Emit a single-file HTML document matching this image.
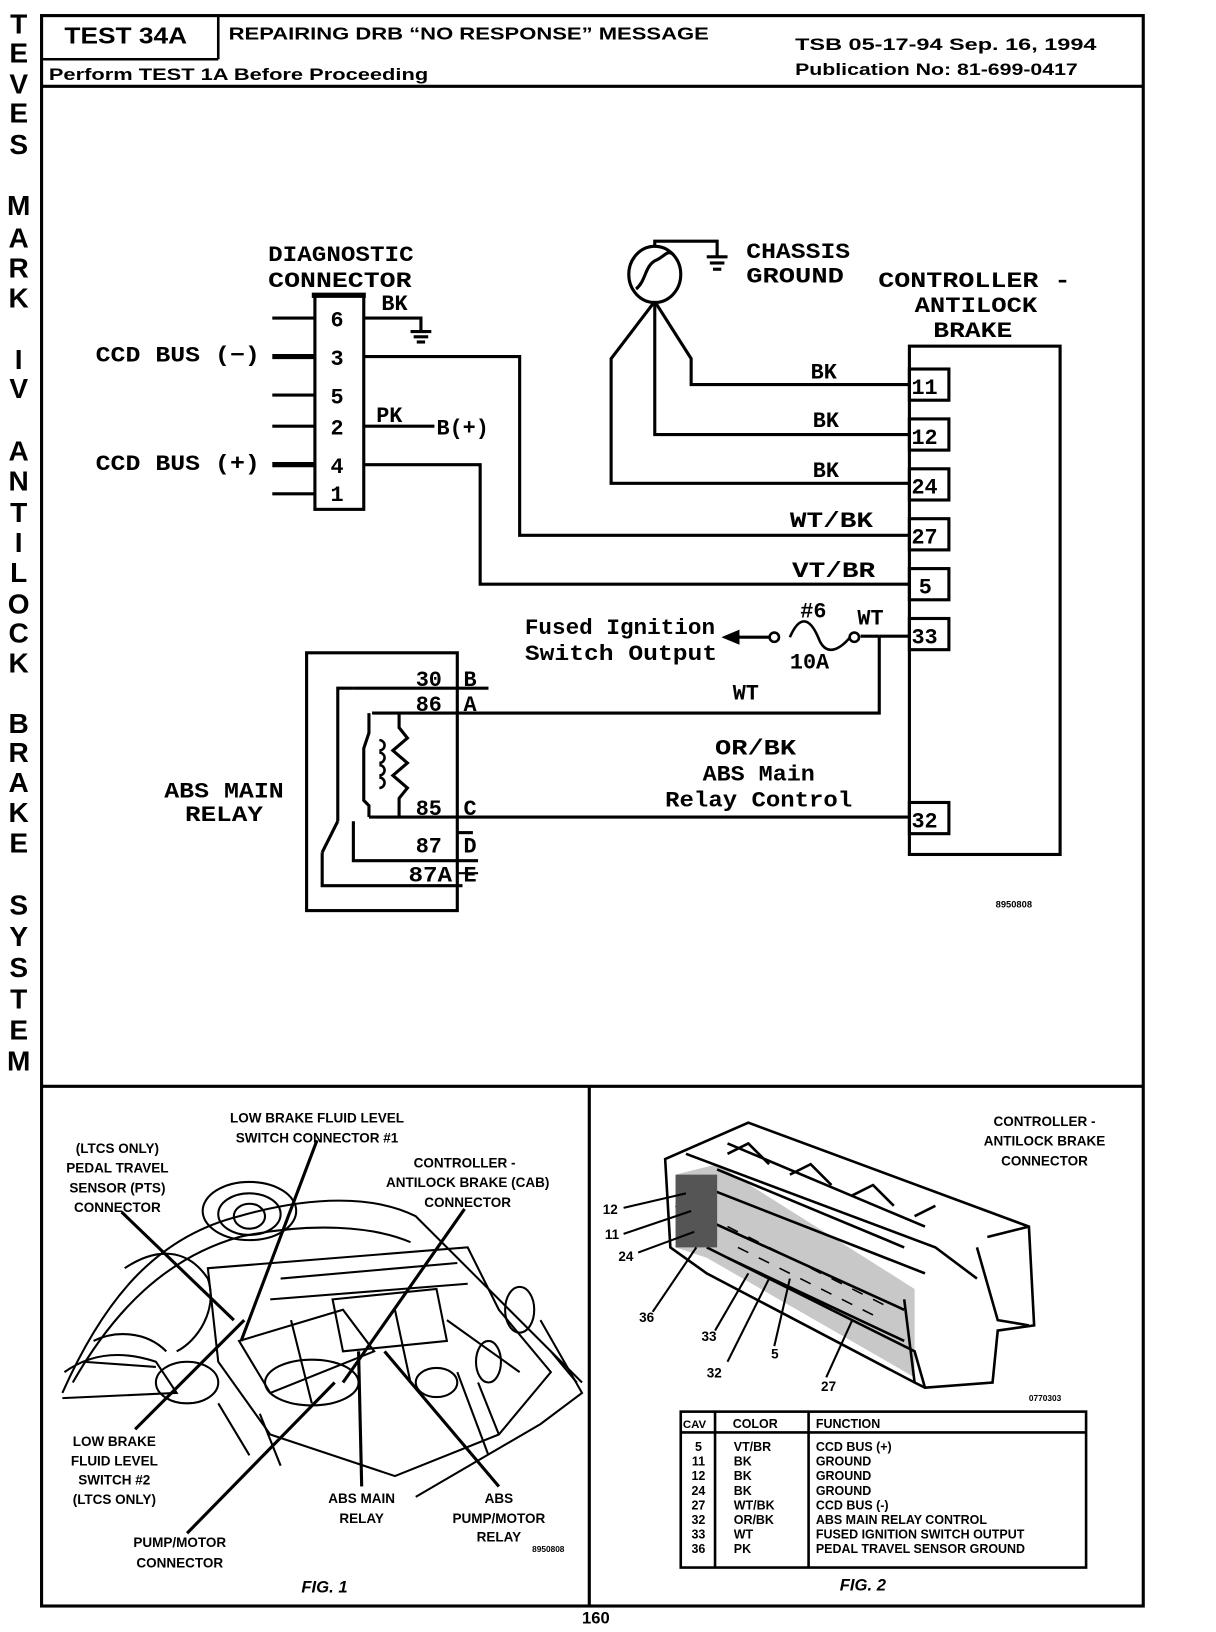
<!DOCTYPE html>
<html><head><meta charset="utf-8"><style>
html,body{margin:0;padding:0;background:#fff;}
svg{display:block;}
text{font-family:"Liberation Sans",sans-serif;font-weight:bold;fill:#000;}
.m{font-family:"Liberation Mono",monospace;font-weight:bold;}
</style></head><body>
<svg width="1216" height="1632" viewBox="0 0 1170 1570" preserveAspectRatio="none" xmlns="http://www.w3.org/2000/svg">
<g fill="none" stroke="#000" stroke-width="2.5">
<rect x="40" y="15" width="1060" height="1530" stroke-width="3"/>
<line x1="40" y1="83" x2="1100" y2="83" stroke-width="3"/>
<line x1="40" y1="57" x2="210" y2="57"/>
<line x1="210" y1="15" x2="210" y2="57"/>
<line x1="40" y1="1045" x2="1100" y2="1045" stroke-width="3"/>
<line x1="567" y1="1045" x2="567" y2="1545" stroke-width="3"/>
</g>
<text x="62" y="42" font-size="22" textLength="118" lengthAdjust="spacingAndGlyphs">TEST 34A</text>
<text x="220" y="38" font-size="17" textLength="462" lengthAdjust="spacingAndGlyphs">REPAIRING DRB “NO RESPONSE” MESSAGE</text>
<text x="765" y="48" font-size="16" textLength="290" lengthAdjust="spacingAndGlyphs">TSB 05-17-94    Sep. 16, 1994</text>
<text x="765" y="72" font-size="16" textLength="272" lengthAdjust="spacingAndGlyphs">Publication No:  81-699-0417</text>
<text x="47" y="77" font-size="16" textLength="365" lengthAdjust="spacingAndGlyphs">Perform TEST 1A Before Proceeding</text>
<g font-size="27" text-anchor="middle">
<text x="18" y="32">T</text><text x="18" y="60">E</text><text x="18" y="90">V</text><text x="18" y="118">E</text><text x="18" y="148">S</text>
<text x="18" y="207">M</text><text x="18" y="238">A</text><text x="18" y="267">R</text><text x="18" y="296">K</text>
<text x="18" y="355">I</text><text x="18" y="383">V</text>
<text x="18" y="443">A</text><text x="18" y="472">N</text><text x="18" y="502">T</text><text x="18" y="531">I</text><text x="18" y="560">L</text><text x="18" y="590">O</text><text x="18" y="618">C</text><text x="18" y="647">K</text>
<text x="18" y="705">B</text><text x="18" y="733">R</text><text x="18" y="762">A</text><text x="18" y="791">K</text><text x="18" y="820">E</text>
<text x="18" y="880">S</text><text x="18" y="910">Y</text><text x="18" y="940">S</text><text x="18" y="970">T</text><text x="18" y="1000">E</text><text x="18" y="1030">M</text>
</g>

<g fill="none" stroke="#000" stroke-width="3">
<rect x="303" y="284" width="47" height="206"/>
<line x1="300" y1="284" x2="352" y2="284" stroke-width="5"/>
<line x1="262" y1="306" x2="303" y2="306"/>
<line x1="262" y1="343" x2="303" y2="343" stroke-width="5"/>
<line x1="262" y1="380" x2="303" y2="380"/>
<line x1="262" y1="410" x2="303" y2="410"/>
<line x1="262" y1="447" x2="303" y2="447" stroke-width="5"/>
<line x1="262" y1="475" x2="303" y2="475"/>
<polyline points="350,306 405,306 405,318"/>
<line x1="395" y1="319" x2="415" y2="319"/><line x1="398" y1="324" x2="412" y2="324"/><line x1="401" y1="329" x2="409" y2="329"/>
<line x1="350" y1="410" x2="418" y2="410"/>
<polyline points="350,343 500,343 500,515 875,515"/>
<polyline points="350,447 462,447 462,562 875,562"/>
<ellipse cx="630" cy="264" rx="25" ry="27"/>
<path d="M612,278 C622,270 620,255 632,250 C640,246 642,240 648,245"/>
<polyline points="630,237 630,232 690,232 690,246"/>
<line x1="680" y1="247" x2="700" y2="247"/><line x1="683" y1="253" x2="697" y2="253"/><line x1="686" y1="259" x2="694" y2="259"/>
<polyline points="630,290 588,345 588,465 875,465"/>
<polyline points="630,290 630,418 875,418"/>
<polyline points="630,290 665,345 665,370 875,370"/>
<rect x="875" y="333" width="145" height="489"/>
<rect x="875" y="355" width="38" height="30"/>
<rect x="875" y="403" width="38" height="30"/>
<rect x="875" y="451" width="38" height="30"/>
<rect x="875" y="499" width="38" height="30"/>
<rect x="875" y="547" width="38" height="30"/>
<rect x="875" y="595" width="38" height="30"/>
<rect x="875" y="772" width="38" height="30"/>
<line x1="846" y1="612" x2="875" y2="612"/>
<line x1="828" y1="612" x2="846" y2="612"/>
<circle cx="822" cy="613" r="4.5" stroke-width="2.5"/>
<path d="M760,613 C770,590 780,595 788,615 C795,632 808,625 818,613" stroke-width="2.5"/>
<circle cx="745" cy="613" r="4.5" stroke-width="2.5"/>
<line x1="700" y1="613" x2="740" y2="613"/>
<polygon points="698,613 710,608 710,618" fill="#000"/>
<polyline points="846,612 846,686 358,686"/>
<rect x="295" y="628" width="145" height="248"/>
<line x1="340" y1="662" x2="470" y2="662"/>
<polyline points="340,662 325,662 325,790"/>
<line x1="325" y1="790" x2="310" y2="820"/>
<polyline points="310,820 310,852 445,852"/>
<polyline points="355,686 355,705 350,720 350,770 355,775 355,786"/>
<path d="M365,712 a5,5 0 1 1 0,10 M365,724 a5,5 0 1 1 0,10 M365,736 a5,5 0 1 1 0,10 M365,748 a5,5 0 1 1 0,10" stroke-width="2.5"/>
<polyline points="384,686 384,700 392,710 378,722 392,734 378,746 392,758 384,768 384,786"/>
<polyline points="355,786 875,786"/>
<polyline points="340,790 340,828 460,828"/>
<line x1="440" y1="801" x2="455" y2="801"/>
<line x1="440" y1="840" x2="460" y2="840" stroke-width="2"/>
</g>
<g font-size="21">
<text class="m" x="258" y="251" textLength="140" lengthAdjust="spacingAndGlyphs">DIAGNOSTIC</text>
<text class="m" x="258" y="276" textLength="138" lengthAdjust="spacingAndGlyphs">CONNECTOR</text>
<text class="m" x="367" y="298">BK</text>
<text class="m" x="92" y="348" textLength="158" lengthAdjust="spacingAndGlyphs">CCD BUS (−)</text>
<text class="m" x="92" y="452" textLength="158" lengthAdjust="spacingAndGlyphs">CCD BUS (+)</text>
<text class="m" x="318" y="314">6</text><text class="m" x="318" y="351">3</text><text class="m" x="318" y="388">5</text><text class="m" x="318" y="418">2</text><text class="m" x="318" y="455">4</text><text class="m" x="318" y="482">1</text>
<text class="m" x="362" y="406">PK</text>
<text class="m" x="420" y="418">B(+)</text>
<text class="m" x="718" y="248" textLength="100" lengthAdjust="spacingAndGlyphs">CHASSIS</text>
<text class="m" x="718" y="272" textLength="94" lengthAdjust="spacingAndGlyphs">GROUND</text>
<text class="m" x="845" y="276" textLength="185" lengthAdjust="spacingAndGlyphs">CONTROLLER -</text>
<text class="m" x="880" y="300" textLength="118" lengthAdjust="spacingAndGlyphs">ANTILOCK</text>
<text class="m" x="898" y="324" textLength="76" lengthAdjust="spacingAndGlyphs">BRAKE</text>
<text class="m" x="877" y="379">11</text><text class="m" x="877" y="427">12</text><text class="m" x="877" y="475">24</text><text class="m" x="877" y="523">27</text><text class="m" x="884" y="571">5</text><text class="m" x="877" y="619">33</text><text class="m" x="877" y="796">32</text>
<text class="m" x="780" y="364">BK</text><text class="m" x="782" y="411">BK</text><text class="m" x="782" y="459">BK</text>
<text class="m" x="760" y="507" textLength="80" lengthAdjust="spacingAndGlyphs">WT/BK</text>
<text class="m" x="762" y="555" textLength="80" lengthAdjust="spacingAndGlyphs">VT/BR</text>
<text class="m" x="505" y="610" textLength="183" lengthAdjust="spacingAndGlyphs">Fused Ignition</text>
<text class="m" x="505" y="635" textLength="185" lengthAdjust="spacingAndGlyphs">Switch Output</text>
<text class="m" x="770" y="594">#6</text><text class="m" x="825" y="601">WT</text><text class="m" x="760" y="643">10A</text>
<text class="m" x="705" y="673">WT</text>
<text class="m" x="688" y="726" textLength="78" lengthAdjust="spacingAndGlyphs">OR/BK</text>
<text class="m" x="676" y="751" textLength="108" lengthAdjust="spacingAndGlyphs">ABS Main</text>
<text class="m" x="640" y="776" textLength="180" lengthAdjust="spacingAndGlyphs">Relay Control</text>
<text class="m" x="158" y="767" textLength="115" lengthAdjust="spacingAndGlyphs">ABS MAIN</text>
<text class="m" x="178" y="790" textLength="75" lengthAdjust="spacingAndGlyphs">RELAY</text>
<text class="m" x="400" y="660">30</text><text class="m" x="446" y="660">B</text>
<text class="m" x="400" y="684">86</text><text class="m" x="446" y="684">A</text>
<text class="m" x="400" y="784">85</text><text class="m" x="446" y="784">C</text>
<text class="m" x="400" y="820">87</text><text class="m" x="446" y="820">D</text>
<text class="m" x="393" y="848" textLength="42" lengthAdjust="spacingAndGlyphs">87A</text><text class="m" x="446" y="848">E</text>
</g>
<text x="958" y="873" font-size="9">8950808</text>

<!-- FIG 1 drawing approximation -->
<g fill="none" stroke="#000" stroke-width="2">
<path d="M60,1340 C100,1250 150,1190 230,1170 C300,1150 360,1150 400,1170 L560,1330"/>
<path d="M70,1330 C110,1260 160,1210 230,1190 C300,1175 360,1180 395,1195"/>
<ellipse cx="240" cy="1165" rx="45" ry="28"/>
<ellipse cx="240" cy="1170" rx="15" ry="12"/>
<ellipse cx="240" cy="1168" rx="30" ry="20"/>
<path d="M62,1320 C90,1300 120,1300 150,1310 L170,1340 L60,1345"/>
<path d="M200,1220 L450,1200 L480,1260 L530,1320 L480,1380 L380,1420 L260,1380 L210,1310 Z"/>
<path d="M230,1290 L330,1260 L360,1300 L260,1340 Z"/>
<ellipse cx="300" cy="1330" rx="45" ry="22"/>
<path d="M320,1250 L420,1240 L430,1290 L330,1300 Z"/>
<path d="M120,1220 C150,1200 180,1200 200,1230 C210,1260 190,1290 170,1300"/>
<path d="M520,1270 L560,1340 L520,1370 L400,1440"/>
<path d="M460,1330 L480,1380 M440,1320 L470,1400 M210,1350 L240,1400 M250,1360 L270,1410"/>
<ellipse cx="420" cy="1330" rx="20" ry="14"/>
<ellipse cx="470" cy="1310" rx="12" ry="20"/>
<path d="M270,1230 L440,1215 M260,1250 L450,1235 M280,1270 L300,1350 M380,1260 L395,1330 M430,1270 L500,1320"/>
<path d="M90,1290 C110,1280 140,1280 160,1300 M80,1310 L150,1315 M530,1300 L555,1330"/>
<ellipse cx="180" cy="1330" rx="30" ry="20"/>
<ellipse cx="500" cy="1260" rx="14" ry="22"/>
</g>
<g stroke="#000" stroke-width="3">
<line x1="305" y1="1097" x2="232" y2="1290"/>
<line x1="117" y1="1166" x2="225" y2="1270"/>
<line x1="447" y1="1163" x2="330" y2="1330"/>
<line x1="130" y1="1375" x2="235" y2="1270"/>
<line x1="180" y1="1475" x2="322" y2="1330"/>
<line x1="348" y1="1430" x2="345" y2="1300"/>
<line x1="480" y1="1430" x2="370" y2="1300"/>
</g>
<g font-size="13" text-anchor="middle">
<text x="305" y="1080">LOW BRAKE FLUID LEVEL</text>
<text x="305" y="1099">SWITCH CONNECTOR #1</text>
<text x="113" y="1109">(LTCS ONLY)</text>
<text x="113" y="1128">PEDAL TRAVEL</text>
<text x="113" y="1147">SENSOR (PTS)</text>
<text x="113" y="1166">CONNECTOR</text>
<text x="447" y="1123">CONTROLLER -</text>
<text x="450" y="1142">ANTILOCK BRAKE (CAB)</text>
<text x="450" y="1161">CONNECTOR</text>
<text x="110" y="1391">LOW BRAKE</text>
<text x="110" y="1410">FLUID LEVEL</text>
<text x="110" y="1428">SWITCH #2</text>
<text x="110" y="1447">(LTCS ONLY)</text>
<text x="348" y="1446">ABS MAIN</text>
<text x="348" y="1465">RELAY</text>
<text x="480" y="1446">ABS</text>
<text x="480" y="1465">PUMP/MOTOR</text>
<text x="480" y="1483">RELAY</text>
<text x="173" y="1488">PUMP/MOTOR</text>
<text x="173" y="1508">CONNECTOR</text>
<text x="1005" y="1083">CONTROLLER -</text>
<text x="1005" y="1102">ANTILOCK BRAKE</text>
<text x="1005" y="1121">CONNECTOR</text>
</g>
<text x="290" y="1532" font-size="16" font-style="italic">FIG. 1</text>
<text x="808" y="1530" font-size="16" font-style="italic">FIG. 2</text>
<text x="512" y="1493" font-size="8">8950808</text>
<text x="990" y="1348" font-size="8">0770303</text>
<text x="560" y="1562" font-size="16" font-weight="normal">160</text>

<!-- FIG 2 connector drawing -->
<polygon points="650,1130 690,1120 880,1240 880,1325 680,1210 650,1200" fill="#c8c8c8"/>
<g fill="none" stroke="#000" stroke-width="2.5">
<path d="M640,1115 L720,1080 L990,1180 L995,1275 L960,1280 L955,1330 L890,1335 L880,1330 L680,1225 L645,1200 Z"/>
<path d="M660,1110 L900,1200 L940,1230 M660,1135 L890,1225 M650,1160 L870,1260"/>
<path d="M950,1190 L990,1180 M940,1200 L960,1270 L990,1275"/>
<path d="M700,1110 L720,1100 L740,1120 M760,1130 L780,1120 L800,1140 M820,1150 L840,1140 L860,1160 M880,1170 L900,1160"/>
<path d="M680,1200 L880,1300 L890,1335 M870,1250 L880,1330"/>
<path d="M700,1100 L890,1180 M690,1125 L870,1200 M700,1210 L870,1290"/>
</g>
<rect x="650" y="1130" width="40" height="70" fill="#555"/>
<g stroke="#000" stroke-width="1.5" fill="none">
<path d="M700,1180 l10,5 M720,1190 l10,5 M740,1200 l10,5 M760,1210 l10,5 M780,1220 l10,5 M800,1230 l10,5 M820,1240 l10,5 M840,1250 l10,5 M710,1200 l10,5 M730,1210 l10,5 M750,1220 l10,5 M770,1230 l10,5 M790,1240 l10,5 M810,1250 l10,5 M830,1260 l10,5"/>
</g>
<g stroke="#000" stroke-width="2">
<line x1="600" y1="1162" x2="660" y2="1148"/>
<line x1="600" y1="1187" x2="665" y2="1165"/>
<line x1="614" y1="1205" x2="668" y2="1185"/>
<line x1="628" y1="1262" x2="670" y2="1200"/>
<line x1="688" y1="1280" x2="720" y2="1225"/>
<line x1="700" y1="1310" x2="740" y2="1230"/>
<line x1="745" y1="1295" x2="760" y2="1230"/>
<line x1="795" y1="1325" x2="820" y2="1270"/>
</g>
<g font-size="13">
<text x="580" y="1168">12</text><text x="582" y="1192">11</text><text x="595" y="1213">24</text>
<text x="615" y="1272">36</text><text x="675" y="1290">33</text><text x="680" y="1325">32</text><text x="742" y="1307">5</text><text x="790" y="1338">27</text>
</g>
<g fill="none" stroke="#000" stroke-width="2.5">
<rect x="655" y="1358" width="390" height="150"/>
<line x1="655" y1="1378" x2="1045" y2="1378"/>
<line x1="688" y1="1358" x2="688" y2="1508"/>
<line x1="778" y1="1358" x2="778" y2="1508"/>
</g>
<g font-size="12">
<text x="657" y="1374" font-size="11">CAV</text><text x="705" y="1374">COLOR</text><text x="785" y="1374">FUNCTION</text>
<g text-anchor="middle">
<text x="672" y="1396">5</text><text x="672" y="1410">11</text><text x="672" y="1424">12</text><text x="672" y="1438">24</text><text x="672" y="1452">27</text><text x="672" y="1466">32</text><text x="672" y="1480">33</text><text x="672" y="1494">36</text>
</g>
<text x="706" y="1396">VT/BR</text><text x="706" y="1410">BK</text><text x="706" y="1424">BK</text><text x="706" y="1438">BK</text><text x="706" y="1452">WT/BK</text><text x="706" y="1466">OR/BK</text><text x="706" y="1480">WT</text><text x="706" y="1494">PK</text>
<text x="785" y="1396">CCD BUS (+)</text><text x="785" y="1410">GROUND</text><text x="785" y="1424">GROUND</text><text x="785" y="1438">GROUND</text><text x="785" y="1452">CCD BUS (-)</text><text x="785" y="1466">ABS MAIN RELAY CONTROL</text><text x="785" y="1480">FUSED IGNITION SWITCH OUTPUT</text><text x="785" y="1494">PEDAL TRAVEL SENSOR GROUND</text>
</g>
</svg>
</body></html>
